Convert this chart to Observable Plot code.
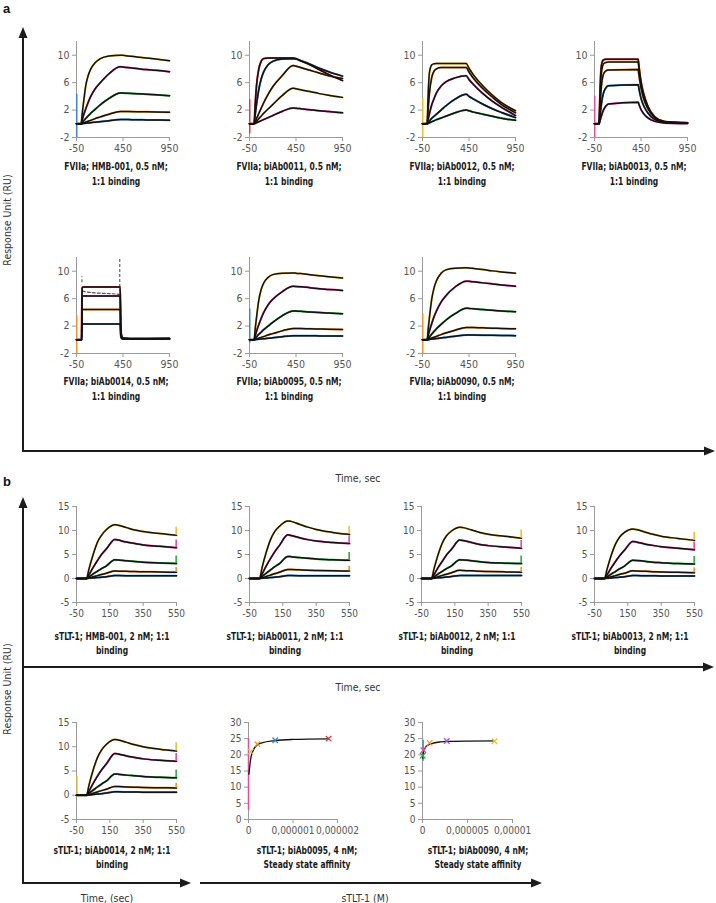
<!DOCTYPE html>
<html><head><meta charset="utf-8">
<script src="https://cdn.jsdelivr.net/npm/d3@7"></script>
<script src="https://cdn.jsdelivr.net/npm/@observablehq/plot@0.6"></script>
<style>
html,body{margin:0;padding:0;background:#fff;}
#fig{position:relative;width:716px;height:903px;overflow:hidden;font-family:"Liberation Sans Narrow","DejaVu Sans Condensed","Liberation Sans",sans-serif;}
.p{position:absolute;}
.t{position:absolute;white-space:nowrap;color:#1a1a1a;font-weight:bold;font-size:10.5px;transform:translate(-50%,-50%) scaleX(0.8);}
.lab{position:absolute;white-space:nowrap;color:#333;font-size:10.5px;transform:translate(-50%,-50%);}
.pl{position:absolute;font-weight:bold;font-size:13px;color:#111;font-family:"Liberation Sans",sans-serif;}
</style></head><body><div id="fig"></div><script>
// ---------- time grids ----------
const timeA = [-50, 0, 10, 25, 50, 75, 100, 150, 200, 300, 420, 450, 500, 600, 700, 800, 950];
const timeAfast = [-50, 0, 5, 10, 15, 20, 30, 45, 70, 100, 420, 425, 430, 440, 455, 480, 520, 600, 700, 950];
const timeB = [-50, 0, 10, 25, 50, 75, 100, 130, 180, 200, 250, 300, 350, 450, 550];

// ---------- tick values ----------
const ticksXA = [-50, 450, 950];
const ticksYA = [-2, 2, 6, 10];
const ticksXB = [-50, 150, 350, 550];
const ticksYB = [-5, 0, 5, 10, 15];
const ticksYSS = [0, 5, 10, 15, 20, 25, 30];
const ticksX95 = [0, 0.000001, 0.000002];
const tickLabels95 = ["0", "0,000001", "0,000002"];
const ticksX90 = [0, 0.000005, 0.00001];
const tickLabels90 = ["0", "0,000005", "0,00001"];

// ---------- titles ----------
const titlesA = [
  ["FVIIa; HMB-001, 0.5 nM;", "1:1 binding"],
  ["FVIIa; biAb0011, 0.5 nM;", "1:1 binding"],
  ["FVIIa; biAb0012, 0.5 nM;", "1:1 binding"],
  ["FVIIa; biAb0013, 0.5 nM;", "1:1 binding"],
  ["FVIIa; biAb0014, 0.5 nM;", "1:1 binding"],
  ["FVIIa; biAb0095, 0.5 nM;", "1:1 binding"],
  ["FVIIa; biAb0090, 0.5 nM;", "1:1 binding"]
];
const titlesB = [
  ["sTLT-1; HMB-001, 2 nM; 1:1", "binding"],
  ["sTLT-1; biAb0011, 2 nM; 1:1", "binding"],
  ["sTLT-1; biAb0012, 2 nM; 1:1", "binding"],
  ["sTLT-1; biAb0013, 2 nM; 1:1", "binding"],
  ["sTLT-1; biAb0014, 2 nM; 1:1", "binding"],
  ["sTLT-1; biAb0095, 4 nM;", "Steady state affinity"],
  ["sTLT-1; biAb0090, 4 nM;", "Steady state affinity"]
];

// ---------- panel a: FVIIa sensorgrams (RU) ----------
const fviiaHMB001 = [
  [0, 0, 1.3, 3.0, 5.6, 7.0, 7.9, 8.9, 9.45, 9.9, 10.0, 9.98, 9.9, 9.75, 9.6, 9.45, 9.2],
  [0, 0, 0.5, 1.2, 2.2, 3.1, 3.9, 5.1, 5.9, 7.3, 8.3, 8.27, 8.2, 8.05, 7.9, 7.8, 7.6],
  [0, 0, 0.15, 0.4, 0.8, 1.15, 1.5, 2.1, 2.7, 3.7, 4.5, 4.48, 4.45, 4.38, 4.3, 4.22, 4.1],
  [0, 0, 0.05, 0.12, 0.25, 0.38, 0.5, 0.75, 0.97, 1.4, 1.8, 1.8, 1.79, 1.77, 1.75, 1.73, 1.7],
  [0, 0, 0.02, 0.04, 0.08, 0.12, 0.16, 0.23, 0.3, 0.46, 0.62, 0.62, 0.61, 0.59, 0.57, 0.55, 0.52]
];
const fviiaBiAb0011 = [
  [0, 0, 2.5, 5.5, 8.0, 9.1, 9.5, 9.6, 9.6, 9.6, 9.6, 9.5, 9.2, 8.6, 7.9, 7.2, 6.3],
  [0, 0, 1.2, 2.8, 5.0, 6.5, 7.5, 8.6, 9.1, 9.45, 9.5, 9.45, 9.2, 8.7, 8.1, 7.6, 6.95],
  [0, 0, 0.3, 0.75, 1.5, 2.25, 3.0, 4.3, 5.4, 7.0, 8.5, 8.4, 8.2, 7.8, 7.4, 7.0, 6.6],
  [0, 0, 0.15, 0.38, 0.75, 1.1, 1.5, 2.15, 2.8, 4.1, 5.2, 5.1, 4.95, 4.7, 4.4, 4.15, 3.85],
  [0, 0, 0.06, 0.15, 0.3, 0.45, 0.6, 0.9, 1.2, 1.8, 2.3, 2.27, 2.2, 2.05, 1.9, 1.78, 1.6]
];
const fviiaBiAb0012 = [
  [0, 0, 4.0, 7.5, 8.6, 8.75, 8.8, 8.8, 8.8, 8.8, 8.8, 8.1, 7.1, 5.5, 4.2, 3.1, 1.9],
  [0, 0, 2.0, 4.5, 6.8, 7.7, 8.0, 8.2, 8.2, 8.2, 8.2, 7.55, 6.6, 5.1, 3.9, 2.8, 1.6],
  [0, 0, 0.6, 1.5, 2.8, 3.7, 4.5, 5.5, 6.1, 6.7, 7.0, 6.45, 5.7, 4.4, 3.3, 2.4, 1.2],
  [0, 0, 0.15, 0.4, 0.8, 1.1, 1.4, 2.0, 2.6, 3.6, 4.3, 4.0, 3.6, 2.85, 2.2, 1.65, 0.9],
  [0, 0, 0.05, 0.15, 0.3, 0.45, 0.6, 0.85, 1.1, 1.6, 2.0, 1.9, 1.7, 1.4, 1.1, 0.8, 0.5]
];
const fviiaBiAb0013 = [
  [0, 0, 2.5, 5.0, 6.8, 7.9, 8.9, 9.3, 9.4, 9.4, 9.4, 8.8, 8.2, 7.1, 5.8, 4.3, 2.7, 1.0, 0.35, 0.15],
  [0, 0, 2.0, 4.0, 5.6, 6.8, 8.0, 8.7, 8.95, 9.0, 9.0, 8.45, 7.85, 6.8, 5.55, 4.1, 2.6, 0.95, 0.33, 0.12],
  [0, 0, 1.3, 2.6, 3.8, 4.8, 6.2, 7.2, 7.7, 7.85, 7.9, 7.4, 6.9, 6.0, 4.9, 3.6, 2.3, 0.85, 0.3, 0.1],
  [0, 0, 0.6, 1.2, 1.8, 2.4, 3.4, 4.4, 5.2, 5.55, 5.7, 5.35, 5.0, 4.3, 3.5, 2.6, 1.65, 0.6, 0.2, 0.08],
  [0, 0, 0.2, 0.45, 0.7, 0.95, 1.4, 1.95, 2.55, 2.9, 3.15, 2.95, 2.75, 2.4, 1.95, 1.45, 0.9, 0.35, 0.12, 0.05]
];
const fviiaBiAb0014 = [
  [0, 0, 0, 7.5, 7.65, 7.7, 7.7, 7.7, 7.7, 7.7, 7.7, 2.6, 1.0, 0.4, 0.25, 0.22, 0.2, 0.2, 0.2, 0.22],
  [0, 0, 0, 6.25, 6.4, 6.4, 6.4, 6.4, 6.4, 6.4, 6.4, 2.1, 0.8, 0.32, 0.2, 0.18, 0.16, 0.15, 0.15, 0.15],
  [0, 0, 0, 4.3, 4.4, 4.4, 4.4, 4.4, 4.4, 4.4, 4.4, 1.45, 0.55, 0.22, 0.15, 0.13, 0.12, 0.12, 0.12, 0.12],
  [0, 0, 0, 2.25, 2.3, 2.3, 2.3, 2.3, 2.3, 2.3, 2.3, 0.75, 0.3, 0.14, 0.1, 0.1, 0.1, 0.1, 0.1, 0.1]
];
const fviiaBiAb0014Dashed = [0, 0, 0, 7.2, 7.15, 7.1, 7.05, 7.0, 6.95, 6.9, 6.6, 2.2, 0.85, 0.35, 0.22, 0.2, 0.18, 0.18, 0.18, 0.2];
const fviiaBiAb0014MarkT = [8, 415];
const fviiaBiAb0014MarkLo = [8.3, 6.9];
const fviiaBiAb0014MarkHi = [9.2, 12];
const fviiaBiAb0095 = [
  [0, 0, 1.4, 3.2, 5.8, 7.3, 8.2, 9.1, 9.5, 9.7, 9.75, 9.72, 9.65, 9.5, 9.35, 9.2, 9.0],
  [0, 0, 0.5, 1.2, 2.2, 3.1, 3.9, 5.1, 5.9, 7.0, 7.8, 7.78, 7.72, 7.6, 7.45, 7.35, 7.2],
  [0, 0, 0.15, 0.4, 0.8, 1.1, 1.45, 2.0, 2.55, 3.5, 4.2, 4.18, 4.15, 4.05, 3.97, 3.9, 3.8],
  [0, 0, 0.05, 0.12, 0.24, 0.35, 0.46, 0.7, 0.9, 1.3, 1.65, 1.65, 1.64, 1.6, 1.57, 1.54, 1.5],
  [0, 0, 0.02, 0.04, 0.08, 0.12, 0.16, 0.22, 0.29, 0.44, 0.6, 0.6, 0.6, 0.58, 0.57, 0.56, 0.55]
];
const fviiaBiAb0090 = [
  [0, 0, 1.4, 3.3, 6.0, 7.6, 8.6, 9.7, 10.2, 10.45, 10.5, 10.47, 10.4, 10.25, 10.05, 9.9, 9.7],
  [0, 0, 0.55, 1.3, 2.4, 3.4, 4.2, 5.5, 6.4, 7.7, 8.55, 8.52, 8.45, 8.3, 8.15, 8.0, 7.8],
  [0, 0, 0.17, 0.42, 0.85, 1.25, 1.6, 2.25, 2.85, 3.8, 4.6, 4.58, 4.52, 4.42, 4.3, 4.2, 4.1],
  [0, 0, 0.05, 0.13, 0.26, 0.38, 0.5, 0.75, 0.98, 1.4, 1.8, 1.8, 1.78, 1.74, 1.7, 1.65, 1.6],
  [0, 0, 0.02, 0.05, 0.1, 0.14, 0.18, 0.27, 0.35, 0.52, 0.7, 0.7, 0.69, 0.67, 0.65, 0.63, 0.6]
];
// injection artefact spikes at start (panel a): low, high
const spikeLoA = [-2, -1.5, -2, -2, -2, -0.5, -2];
const spikeHiA = [4.3, 3.5, 3.8, 4.0, 3.5, 4.5, 3.8];

// ---------- panel b: sTLT-1 sensorgrams (RU) ----------
const stltHMB001 = [
  [0, 0, 0, 2.0, 5.0, 7.5, 9.0, 10.2, 11.2, 11.1, 10.6, 10.1, 9.8, 9.35, 9.0],
  [0, 0, 0, 0.8, 2.3, 3.7, 5.0, 6.2, 8.15, 8.0, 7.6, 7.3, 7.0, 6.7, 6.4],
  [0, 0, 0, 0.35, 0.95, 1.5, 2.05, 2.65, 3.9, 3.85, 3.7, 3.55, 3.4, 3.25, 3.1],
  [0, 0, 0, 0.12, 0.35, 0.6, 0.85, 1.1, 1.55, 1.53, 1.5, 1.45, 1.42, 1.35, 1.3],
  [0, 0, 0, 0.05, 0.12, 0.2, 0.28, 0.38, 0.6, 0.6, 0.59, 0.58, 0.57, 0.56, 0.55]
];
const stltBiAb0011 = [
  [0, 0, 0, 2.2, 5.4, 8.0, 9.7, 10.9, 12.0, 11.9, 11.3, 10.7, 10.2, 9.6, 9.2],
  [0, 0, 0, 0.9, 2.6, 4.1, 5.5, 6.9, 9.1, 8.95, 8.5, 8.1, 7.8, 7.5, 7.3],
  [0, 0, 0, 0.4, 1.1, 1.75, 2.4, 3.1, 4.6, 4.55, 4.35, 4.2, 4.05, 3.9, 3.8],
  [0, 0, 0, 0.15, 0.42, 0.7, 1.0, 1.3, 1.9, 1.88, 1.8, 1.72, 1.67, 1.6, 1.55],
  [0, 0, 0, 0.05, 0.12, 0.2, 0.28, 0.38, 0.6, 0.6, 0.59, 0.58, 0.57, 0.56, 0.55]
];
const stltBiAb0012 = [
  [0, 0, 0, 2.0, 5.0, 7.4, 8.9, 9.9, 10.7, 10.6, 10.1, 9.6, 9.2, 8.8, 8.4],
  [0, 0, 0, 0.8, 2.3, 3.6, 4.9, 6.1, 8.0, 7.9, 7.5, 7.1, 6.85, 6.55, 6.3],
  [0, 0, 0, 0.35, 0.95, 1.5, 2.05, 2.65, 3.9, 3.85, 3.7, 3.5, 3.35, 3.2, 3.1],
  [0, 0, 0, 0.13, 0.38, 0.65, 0.9, 1.2, 1.7, 1.68, 1.6, 1.5, 1.45, 1.38, 1.3],
  [0, 0, 0, 0.05, 0.13, 0.22, 0.3, 0.4, 0.65, 0.65, 0.64, 0.63, 0.62, 0.61, 0.6]
];
const stltBiAb0013 = [
  [0, 0, 0, 1.9, 4.8, 7.1, 8.6, 9.6, 10.3, 10.2, 9.7, 9.2, 8.8, 8.35, 7.95],
  [0, 0, 0, 0.75, 2.2, 3.5, 4.7, 5.9, 7.7, 7.6, 7.2, 6.9, 6.6, 6.3, 6.0],
  [0, 0, 0, 0.33, 0.92, 1.45, 2.0, 2.6, 3.8, 3.75, 3.6, 3.4, 3.3, 3.1, 3.0],
  [0, 0, 0, 0.12, 0.35, 0.6, 0.85, 1.1, 1.6, 1.58, 1.5, 1.42, 1.35, 1.28, 1.2],
  [0, 0, 0, 0.05, 0.12, 0.2, 0.28, 0.38, 0.6, 0.6, 0.58, 0.56, 0.54, 0.52, 0.5]
];
const stltBiAb0014 = [
  [0, 0, 0, 2.1, 5.2, 7.7, 9.3, 10.5, 11.5, 11.4, 10.9, 10.4, 10.0, 9.5, 9.1],
  [0, 0, 0, 0.85, 2.45, 3.9, 5.2, 6.5, 8.6, 8.5, 8.1, 7.8, 7.5, 7.2, 7.0],
  [0, 0, 0, 0.4, 1.05, 1.7, 2.3, 2.95, 4.4, 4.35, 4.15, 4.0, 3.85, 3.7, 3.6],
  [0, 0, 0, 0.14, 0.4, 0.68, 0.95, 1.25, 1.8, 1.78, 1.7, 1.65, 1.6, 1.55, 1.5],
  [0, 0, 0, 0.06, 0.15, 0.24, 0.33, 0.45, 0.7, 0.7, 0.68, 0.66, 0.64, 0.62, 0.6]
];
// end-of-run spikes above final value (panel b, first four series)
const spikeUpB = [1.7, 1.6, 1.6, 1.0];

// ---------- steady state affinity ----------
const ss95Conc = [0.00000005, 0.0000002, 0.0000006, 0.0000018];
const ss95Resp = [21, 23.3, 24.5, 25];
const ss95LowRange = [2.8, 25];
const ss95FitConc = [0.00000001, 0.00000003, 0.00000006, 0.0000001, 0.00000018, 0.0000003, 0.0000006, 0.000001, 0.0000018];
const ss95FitResp = [14, 16.7, 19.5, 21.2, 22.9, 23.7, 24.4, 24.75, 24.95];
const ss90Conc = [0.00000002, 0.0000001, 0.0000008, 0.0000027, 0.000008];
const ss90Resp = [19.7, 21.4, 23.7, 24.3, 24.2];
const ss90LowRange = [18, 24.5];
const ss90FitConc = [0.00000001, 0.0000001, 0.0000003, 0.0000006, 0.000001, 0.000002, 0.000003, 0.000005, 0.000008];
const ss90FitResp = [19, 20.8, 22.2, 23.0, 23.5, 24.0, 24.15, 24.25, 24.3];

// ---------- styling ----------
const YEL = "#efc02c", PNK = "#e54b9e", GRN = "#35a84a", ORG = "#f29422", BLU = "#3f82c8", RED = "#e0363a", PUR = "#a857c0", TEAL = "#39a3b5";
const AXIS = "#9a9a9a", TXT = "#555555";
const FONT = '"Liberation Sans Narrow","DejaVu Sans Condensed","Liberation Sans",sans-serif';

const fig = document.getElementById("fig");

function place(node, left, top) {
  node.classList.add("p");
  node.style.left = left + "px";
  node.style.top = top + "px";
  fig.appendChild(node);
}
function text(cls, str, x, y, extra) {
  const d = document.createElement("div");
  d.className = cls;
  d.textContent = str;
  d.style.left = x + "px";
  d.style.top = y + "px";
  if (extra) Object.assign(d.style, extra);
  fig.appendChild(d);
  return d;
}

function kinetic(cfg) {
  const ml = 34, mr = 12, mt = 6, mb = 24;
  const rows = [];
  cfg.series.forEach((vals, s) => vals.forEach((v, j) => rows.push({t: cfg.times[j], v, s, c: cfg.colors[s]})));
  const marks = [
    Plot.ruleX([cfg.xDomain[0]], {stroke: AXIS}),
    Plot.ruleY([cfg.yDomain[0]], {stroke: AXIS}),
    Plot.axisY({ticks: cfg.yTicks, tickSize: 4, tickPadding: 3, stroke: AXIS, fill: TXT, label: null, tickFormat: d => String(d)}),
    Plot.axisX({ticks: cfg.xTicks, tickSize: 4, tickPadding: 3, stroke: AXIS, fill: TXT, label: null, tickFormat: d => String(d)})
  ];
  if (cfg.spikes) marks.push(Plot.ruleX(cfg.spikes, {x: "t", y1: "lo", y2: "hi", stroke: "c", strokeWidth: 1.4}));
  marks.push(Plot.line(rows, {x: "t", y: "v", z: "s", stroke: "c", strokeWidth: 2.0, curve: "monotone-x"}));
  if (cfg.dashed) {
    marks.push(Plot.line(cfg.times.map((t, j) => ({t, v: cfg.dashed[j]})), {x: "t", y: "v", stroke: "#555", strokeWidth: 1.2, strokeDasharray: "3,2", curve: "monotone-x"}));
  }
  if (cfg.marksT) {
    marks.push(Plot.ruleX(cfg.marksT.map((t, i) => ({t, lo: cfg.marksLo[i], hi: cfg.marksHi[i]})), {x: "t", y1: "lo", y2: "hi", stroke: "#666", strokeWidth: 1.2, strokeDasharray: "3,2"}));
  }
  marks.push(Plot.line(rows, {x: "t", y: "v", z: "s", stroke: "#111", strokeWidth: 1.5, curve: "monotone-x"}));
  if (cfg.endSpikes) marks.push(Plot.ruleX(cfg.endSpikes, {x: "t", y1: "lo", y2: "hi", stroke: "c", strokeWidth: 1.6}));
  const p = Plot.plot({
    width: ml + cfg.fw + mr, height: mt + cfg.fh + mb,
    marginLeft: ml, marginRight: mr, marginTop: mt, marginBottom: mb,
    x: {domain: cfg.xDomain}, y: {domain: cfg.yDomain},
    color: {type: "identity"},
    style: {fontFamily: FONT, fontSize: cfg.fs + "px", background: "transparent", overflow: "visible"},
    marks
  });
  place(p, cfg.left - ml, cfg.top - mt);
}

function steady(cfg) {
  const ml = 34, mr = 12, mt = 6, mb = 24;
  const pts = cfg.conc.map((c, i) => ({c, r: cfg.resp[i], col: cfg.colors[i]}));
  const fit = cfg.fitConc.map((c, i) => ({c, r: cfg.fitResp[i]}));
  const p = Plot.plot({
    width: ml + cfg.fw + mr, height: mt + cfg.fh + mb,
    marginLeft: ml, marginRight: mr, marginTop: mt, marginBottom: mb,
    x: {domain: cfg.xDomain}, y: {domain: [0, 30]},
    color: {type: "identity"},
    style: {fontFamily: FONT, fontSize: "10px", background: "transparent", overflow: "visible"},
    marks: [
      Plot.ruleX([0], {stroke: AXIS}),
      Plot.ruleY([0], {stroke: AXIS}),
      Plot.axisY({ticks: ticksYSS, tickSize: 4, tickPadding: 3, stroke: AXIS, fill: TXT, label: null}),
      Plot.axisX({ticks: cfg.xTicks, tickSize: 4, tickPadding: 3, stroke: AXIS, fill: TXT, label: null, tickFormat: (d, i) => cfg.xLabels[i]}),
      Plot.ruleX([{c: cfg.lowX, lo: cfg.lowRange[0], hi: cfg.lowRange[1]}], {x: "c", y1: "lo", y2: "hi", stroke: cfg.lowColor, strokeWidth: 1.5}),
      Plot.line(fit, {x: "c", y: "r", stroke: "#111", strokeWidth: 1.3, curve: "monotone-x"}),
      Plot.dot(pts, {x: "c", y: "r", symbol: "times", r: 2.6, stroke: "col", strokeWidth: 1.3})
    ]
  });
  place(p, cfg.left - ml, cfg.top - mt);
}

// ---------- frame with arrows ----------
const NS = "http://www.w3.org/2000/svg";
const frame = document.createElementNS(NS, "svg");
frame.setAttribute("width", 716); frame.setAttribute("height", 903);
frame.style.position = "absolute"; frame.style.left = "0px"; frame.style.top = "0px";
const FR = "#1c1c1c";
function ln(x1, y1, x2, y2) {
  const l = document.createElementNS(NS, "line");
  l.setAttribute("x1", x1); l.setAttribute("y1", y1); l.setAttribute("x2", x2); l.setAttribute("y2", y2);
  l.setAttribute("stroke", FR); l.setAttribute("stroke-width", 2);
  frame.appendChild(l);
}
function head(x, y, dir) {
  const g = document.createElementNS(NS, "polygon");
  const pts = dir === "up" ? [[x, y], [x - 4.5, y + 11], [x + 4.5, y + 11]] : [[x, y], [x - 11, y - 4.5], [x - 11, y + 4.5]];
  g.setAttribute("points", pts.map(p => p.join(",")).join(" "));
  g.setAttribute("fill", FR);
  frame.appendChild(g);
}
// panel a
ln(23, 36, 23, 452); head(23, 27, "up");
ln(22, 451, 705, 451); head(715, 451, "right");
// panel b
ln(23, 506, 23, 884); head(23, 497, "up");
ln(23, 667, 704, 667); head(714, 667, "right");
ln(22, 883, 181, 883); head(191, 883, "right");
ln(200, 883, 532, 883); head(542, 883, "right");
fig.appendChild(frame);

// ---------- panel a plots ----------
const aPanels = [fviiaHMB001, fviiaBiAb0011, fviiaBiAb0012, fviiaBiAb0013, fviiaBiAb0014, fviiaBiAb0095, fviiaBiAb0090];
const aColors = [
  [YEL, PNK, GRN, ORG, BLU],
  [RED, BLU, ORG, YEL, PNK],
  [YEL, ORG, PNK, BLU, GRN],
  [RED, YEL, ORG, BLU, PNK],
  [RED, PNK, ORG, BLU],
  [YEL, PNK, GRN, ORG, BLU],
  [YEL, PNK, GRN, ORG, BLU]
];
const aSpikeColors = [BLU, RED, YEL, PNK, ORG, BLU, ORG];
const aLeft = [76, 249, 422, 594, 76, 249, 422];
const aTop = [41, 41, 41, 41, 257, 257, 257];
aPanels.forEach((series, i) => {
  const fast = (i === 3 || i === 4);
  kinetic({
    series, colors: aColors[i], times: fast ? timeAfast : timeA,
    xDomain: [-50, 950], yDomain: [-2, 12], xTicks: ticksXA, yTicks: ticksYA,
    left: aLeft[i], top: aTop[i], fw: 93, fh: 96, fs: 10.5,
    spikes: [{t: -47, lo: spikeLoA[i], hi: spikeHiA[i], c: aSpikeColors[i]}],
    dashed: i === 4 ? fviiaBiAb0014Dashed : null,
    marksT: i === 4 ? fviiaBiAb0014MarkT : null, marksLo: fviiaBiAb0014MarkLo, marksHi: fviiaBiAb0014MarkHi
  });
  const cx = aLeft[i] + 40;
  const y0 = i < 4 ? 166 : 381;
  text("t", titlesA[i][0], cx, y0);
  text("t", titlesA[i][1], cx, y0 + 15);
});

// ---------- panel b plots ----------
const bPanels = [stltHMB001, stltBiAb0011, stltBiAb0012, stltBiAb0013, stltBiAb0014];
const bColors = [YEL, PNK, GRN, ORG, BLU];
const bLeft = [76, 249, 421, 594, 76];
const bTop = [506, 506, 506, 506, 722];
bPanels.forEach((series, i) => {
  const ends = spikeUpB.map((u, s) => ({t: 548, lo: series[s][series[s].length - 1], hi: series[s][series[s].length - 1] + u, c: bColors[s]}));
  kinetic({
    series, colors: bColors, times: timeB,
    xDomain: [-50, 550], yDomain: [-5, 15], xTicks: ticksXB, yTicks: ticksYB,
    left: bLeft[i], top: bTop[i], fw: 100, fh: i < 4 ? 96 : 97, fs: 10,
    spikes: i === 4 ? [{t: -47, lo: 0, hi: 3.9, c: YEL}] : null,
    endSpikes: ends
  });
  const cx = bLeft[i] + 36;
  const y0 = i < 4 ? 636 : 850;
  text("t", titlesB[i][0], cx, y0);
  text("t", titlesB[i][1], cx, y0 + 14);
});

steady({
  conc: ss95Conc, resp: ss95Resp, colors: [YEL, ORG, BLU, RED],
  fitConc: ss95FitConc, fitResp: ss95FitResp,
  lowX: 0, lowRange: ss95LowRange, lowColor: PNK,
  xDomain: [0, 0.000002], xTicks: ticksX95, xLabels: tickLabels95,
  left: 248, top: 722, fw: 89, fh: 97
});
text("t", titlesB[5][0], 307, 850);
text("t", titlesB[5][1], 307, 864);
steady({
  conc: ss90Conc, resp: ss90Resp, colors: [GRN, PNK, ORG, PUR, YEL],
  fitConc: ss90FitConc, fitResp: ss90FitResp,
  lowX: 0.00000008, lowRange: ss90LowRange, lowColor: TEAL,
  xDomain: [0, 0.00001], xTicks: ticksX90, xLabels: tickLabels90,
  left: 422, top: 722, fw: 90, fh: 97
});
text("t", titlesB[6][0], 478, 850);
text("t", titlesB[6][1], 478, 864);

// ---------- labels ----------
const pa = document.createElement("div"); pa.className = "pl"; pa.textContent = "a"; pa.style.left = "3px"; pa.style.top = "1px"; fig.appendChild(pa);
const pb = document.createElement("div"); pb.className = "pl"; pb.textContent = "b"; pb.style.left = "3px"; pb.style.top = "474px"; fig.appendChild(pb);
text("lab", "Response Unit (RU)", 7, 220, {transform: "translate(-50%,-50%) rotate(-90deg)"});
text("lab", "Response Unit (RU)", 7, 689, {transform: "translate(-50%,-50%) rotate(-90deg)"});
text("lab", "Time, sec", 358, 478);
text("lab", "Time, sec", 358, 687);
text("lab", "Time, (sec)", 107, 898);
text("lab", "sTLT-1 (M)", 365, 898);
</script></body></html>
